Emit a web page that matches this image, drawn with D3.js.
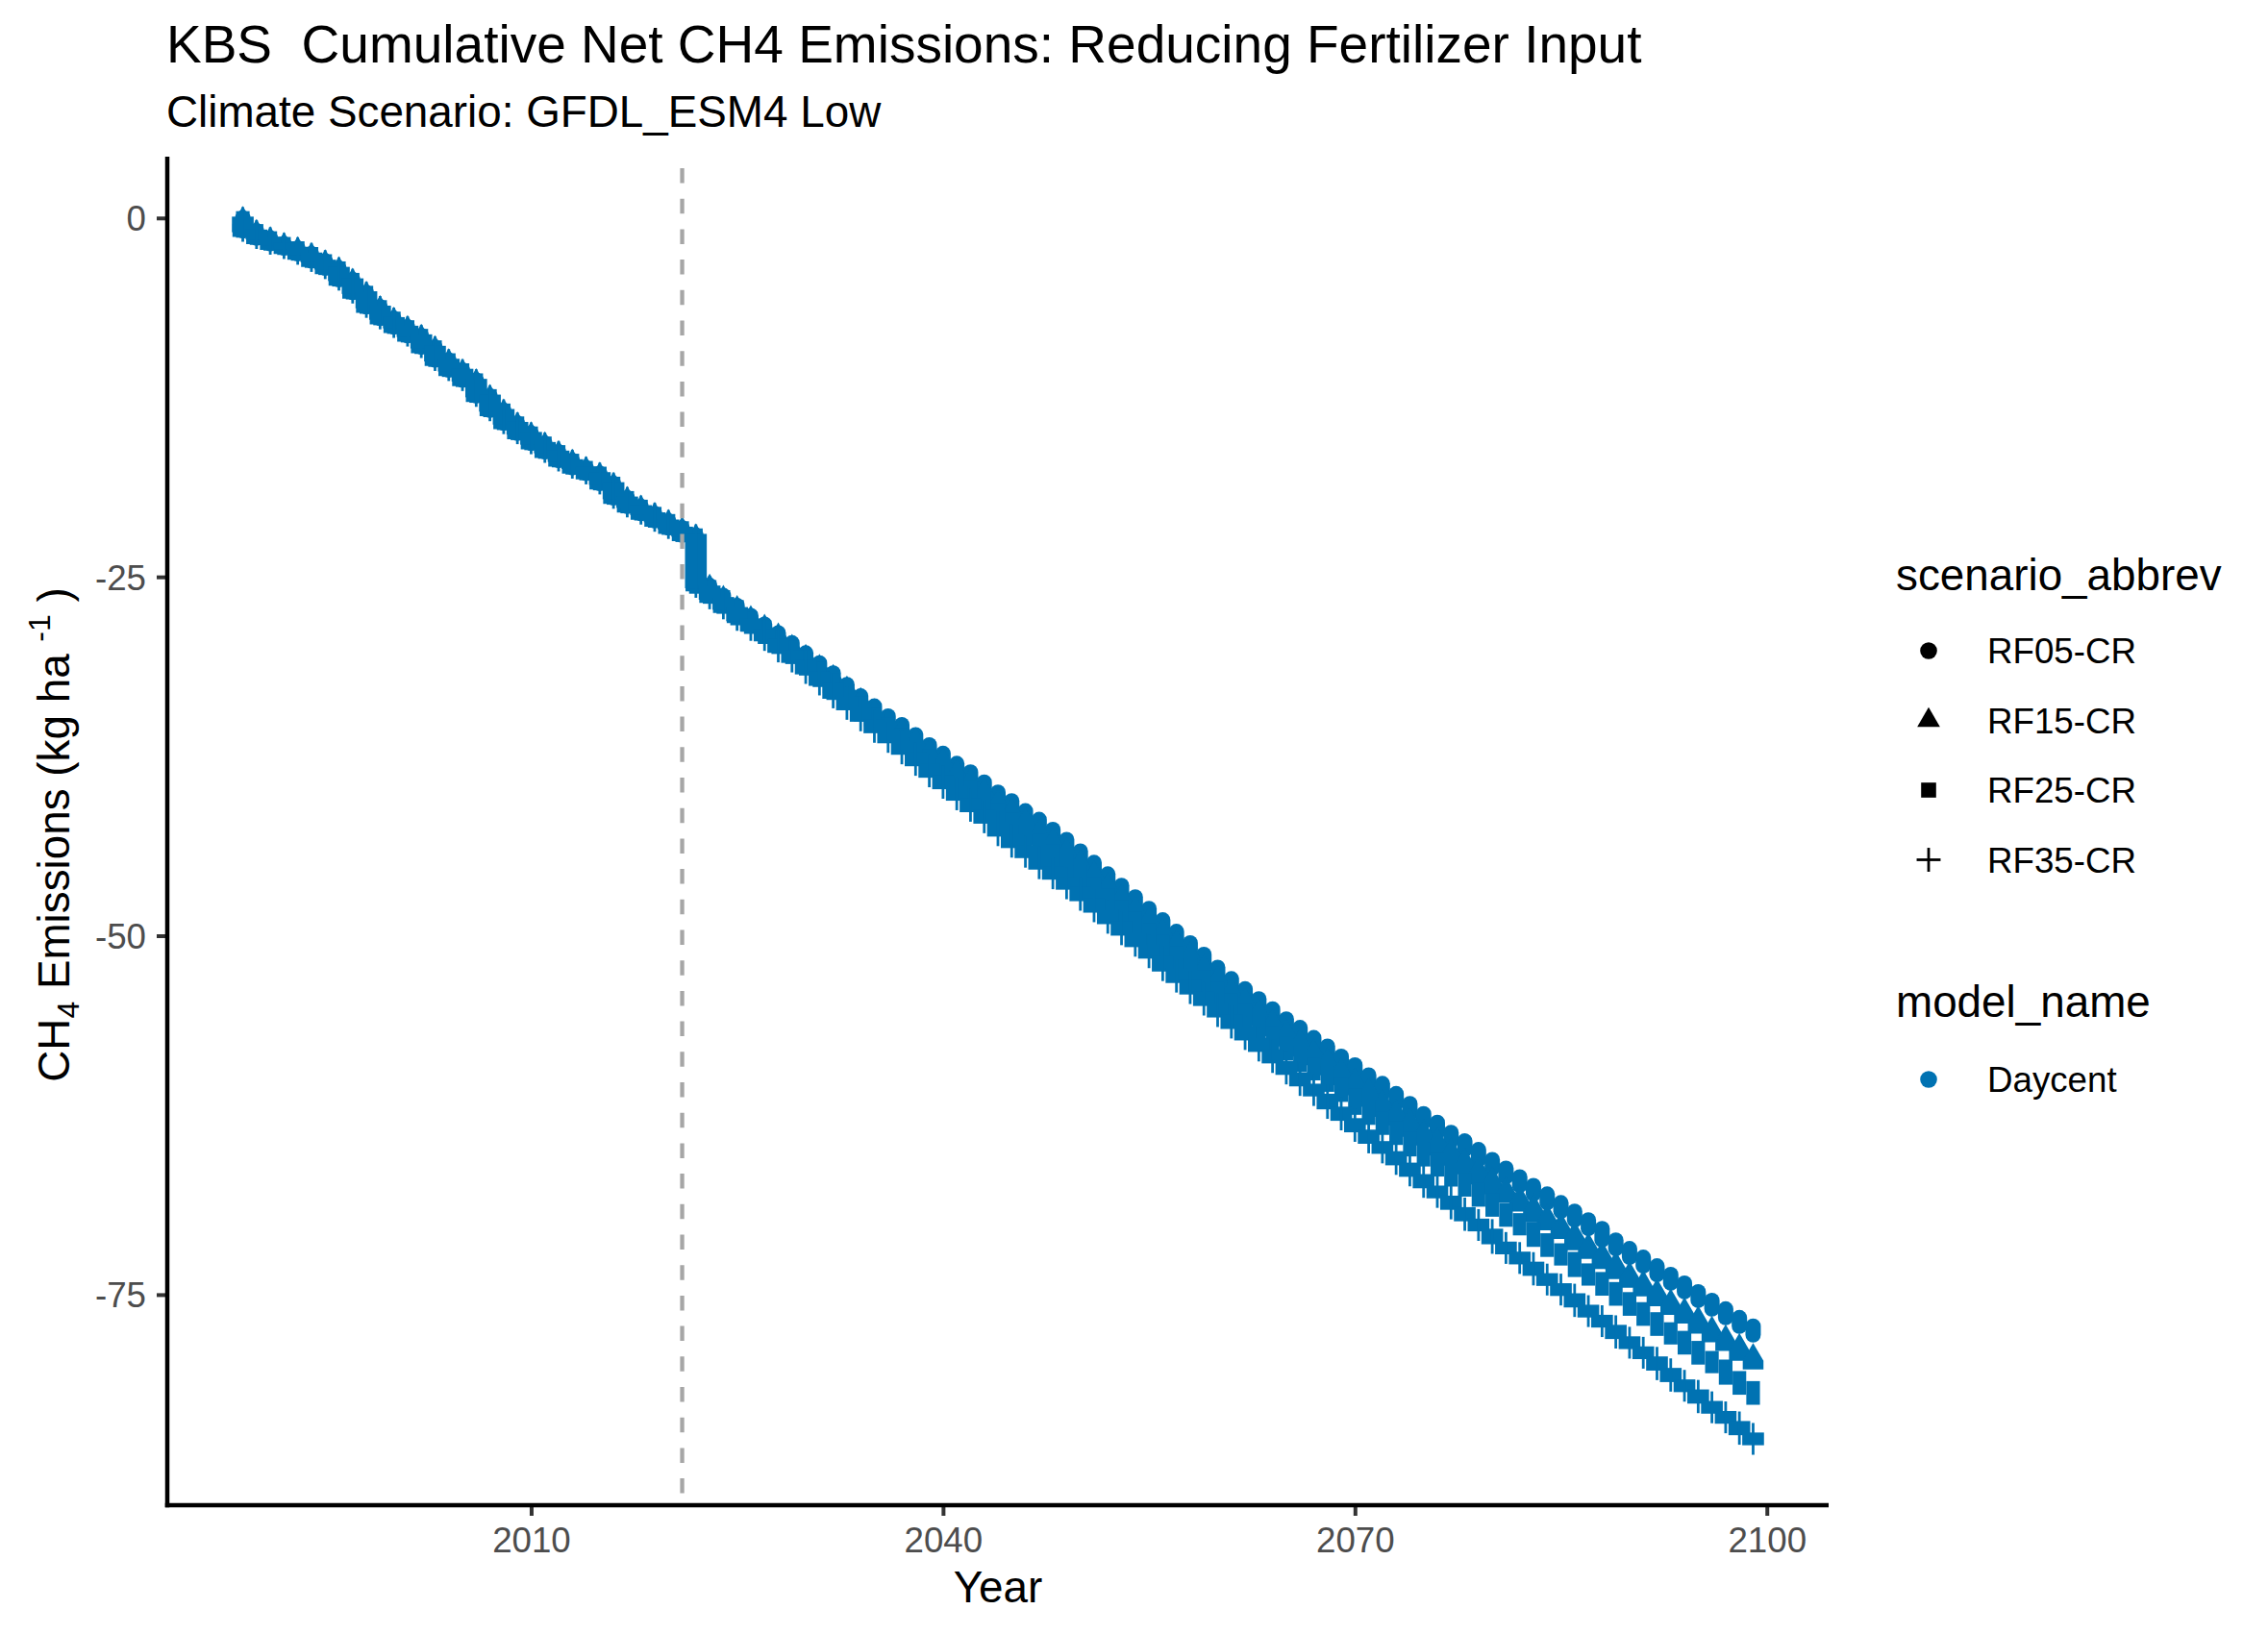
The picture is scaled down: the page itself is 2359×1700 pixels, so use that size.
<!DOCTYPE html>
<html>
<head>
<meta charset="utf-8">
<script src="https://cdn.jsdelivr.net/npm/d3@7"></script>
<style>
  html, body { margin: 0; padding: 0; background: #ffffff; }
  svg { display: block; }
  text { font-family: "Liberation Sans", Arial, sans-serif; white-space: pre; }
</style>
</head>
<body>
<svg id="chart" width="2359" height="1700"></svg>
<script>
// ---------------- DATA ----------------
const titleText = "KBS  Cumulative Net CH4 Emissions: Reducing Fertilizer Input";
const subtitleText = "Climate Scenario: GFDL_ESM4 Low";
const scenarios = ["RF05-CR", "RF15-CR", "RF25-CR", "RF35-CR"];
const modelNames = ["Daycent"];
const xTicks = [2010, 2040, 2070, 2100];
const yTicks = [0, -25, -50, -75];
const interventionYear = 2021;
const startCumulative = 0;              // cumulative value at the start of the record
const firstYear = 1989;

// Year-end cumulative net CH4 (kg/ha), shared history 1989-2021 (all scenarios identical)
const historyYearEnd = [
  -0.9, -1.4, -1.8, -2.1, -2.5, -3.0, -3.5, -4.3, -5.2, -6.2,
  -7.0, -7.6, -8.2, -9.0, -9.9, -10.6, -11.3, -12.4, -13.4, -14.3,
  -15.0, -15.7, -16.3, -16.9, -17.4, -17.8, -18.5, -19.5, -20.1, -20.6,
  -21.1, -21.6, -22.1
];

// Year-end cumulative values per scenario, 2022-2099
const rf05 = [
  -25.6, -26.3, -27.0, -27.7, -28.3, -28.9, -29.6, -30.3, -31.0, -31.7,
  -32.5, -33.3, -34.0, -34.7, -35.3, -36.0, -36.7, -37.3, -38.0, -38.6,
  -39.3, -40.0, -40.6, -41.3, -41.9, -42.6, -43.3, -44.1, -44.9, -45.7,
  -46.5, -47.3, -48.1, -48.9, -49.7, -50.5, -51.3, -52.2, -53.0, -53.7,
  -54.4, -55.1, -55.8, -56.4, -57.1, -57.7, -58.4, -59.0, -59.7, -60.3,
  -61.0, -61.7, -62.4, -63.0, -63.7, -64.3, -64.9, -65.6, -66.2, -66.8,
  -67.4, -68.0, -68.6, -69.2, -69.8, -70.4, -71.2, -71.8, -72.4, -73.0,
  -73.6, -74.2, -74.8, -75.4, -76.0, -76.6, -77.2, -77.8
];
const rf15 = [
  -25.6, -26.4, -27.1, -27.8, -28.4, -29.0, -29.8, -30.5, -31.2, -31.9,
  -32.7, -33.5, -34.3, -35.0, -35.6, -36.3, -37.1, -37.7, -38.5, -39.1,
  -39.8, -40.6, -41.2, -41.9, -42.7, -43.3, -44.0, -44.8, -45.6, -46.4,
  -47.2, -48.0, -48.8, -49.6, -50.4, -51.2, -52.1, -52.9, -53.7, -54.4,
  -55.2, -55.9, -56.6, -57.3, -58.0, -58.6, -59.3, -60.0, -60.7, -61.5,
  -62.2, -62.8, -63.6, -64.2, -64.9, -65.6, -66.2, -66.9, -67.6, -68.2,
  -68.8, -69.5, -70.1, -70.7, -71.5, -72.1, -72.8, -73.5, -74.1, -74.7,
  -75.4, -76.0, -76.6, -77.3, -77.9, -78.5, -79.2, -79.8
];
const rf25 = [
  -25.7, -26.4, -27.1, -27.9, -28.5, -29.2, -29.9, -30.6, -31.4, -32.2,
  -33.1, -33.8, -34.6, -35.3, -36.0, -36.7, -37.5, -38.2, -39.0, -39.7,
  -40.4, -41.2, -41.9, -42.8, -43.4, -44.1, -44.8, -45.6, -46.4, -47.2,
  -48.0, -48.8, -49.6, -50.4, -51.2, -52.1, -52.9, -53.7, -54.5, -55.2,
  -56.0, -56.8, -57.5, -58.2, -59.0, -59.6, -60.4, -61.1, -62.0, -62.7,
  -63.4, -64.1, -64.9, -65.6, -66.3, -67.0, -67.7, -68.4, -69.1, -69.8,
  -70.4, -71.2, -71.9, -72.5, -73.3, -73.9, -74.6, -75.3, -76.0, -76.7,
  -77.4, -78.0, -78.7, -79.4, -80.0, -80.8, -81.5, -82.2
];
const rf35 = [
  -25.7, -26.5, -27.2, -28.0, -28.7, -29.4, -30.2, -30.9, -31.7, -32.5,
  -33.4, -34.2, -35.0, -35.8, -36.5, -37.3, -38.1, -38.9, -39.7, -40.5,
  -41.3, -42.1, -43.0, -43.8, -44.5, -45.3, -46.0, -46.7, -47.5, -48.3,
  -49.1, -49.9, -50.7, -51.5, -52.4, -53.2, -54.0, -54.8, -55.6, -56.4,
  -57.2, -58.0, -58.8, -59.6, -60.4, -61.1, -62.0, -62.8, -63.6, -64.4,
  -65.1, -65.9, -66.7, -67.5, -68.2, -69.0, -69.8, -70.5, -71.4, -72.1,
  -72.8, -73.6, -74.3, -75.0, -75.8, -76.5, -77.2, -78.0, -78.7, -79.4,
  -80.2, -81.0, -81.7, -82.5, -83.2, -83.9, -84.7, -85.4
];
const scenarioFuture = [rf05, rf15, rf25, rf35];

// ---------------- STYLE / LAYOUT ----------------
const W = 2359, H = 1700;
const panel = { left: 174, right: 1902, top: 163, bottom: 1566 };
const blue = "#0072B2";
const R = 8;      // point "radius" (R pch RADIUS) for data
const RL = 8.8;   // legend key radius

const svg = d3.select("#chart");
svg.append("rect").attr("width", W).attr("height", H).attr("fill", "#fff");

// Build per-scenario yearly columns (start-of-year to end-of-year cumulative)
const series = scenarios.map((name, si) => {
  const vals = historyYearEnd.concat(scenarioFuture[si]);
  return {
    name,
    cols: vals.map((v, i) => ({
      year: firstYear + i,
      start: i === 0 ? startCumulative : vals[i - 1],
      end: v
    }))
  };
});

const allVals = [startCumulative].concat(...series.map(s => s.cols.map(c => c.end)));
const years = series[0].cols.map(c => c.year);
const xMin = d3.min(years), xMax = d3.max(years);
const xPad = (xMax - xMin) * 0.05;
const yMin = d3.min(allVals), yMax = d3.max(allVals);
const yPad = (yMax - yMin) * 0.05;

const x = d3.scaleLinear().domain([xMin - xPad, xMax + xPad]).range([panel.left, panel.right]);
const y = d3.scaleLinear().domain([yMin - yPad, yMax + yPad]).range([panel.bottom, panel.top]);

// ---------------- SHAPES ----------------
const shapeDims = r => ({
  triR: 1.5551 * r, triHalfW: 0.866 * 1.5551 * r, triBase: 0.5 * 1.5551 * r,
  sqHalf: 0.886 * r, plusHalf: Math.SQRT2 * r
});
const D = shapeDims(R);
const plusW = 2.8;

const g = svg.append("g");

function colPix(c) {
  const a = y(c.start), b = y(c.end);
  return { top: Math.min(a, b), bot: Math.max(a, b), cx: x(c.year) };
}

// RF05: stacked circles
g.append("g").selectAll("line").data(series[0].cols).join("line")
  .each(function (c) {
    const p = colPix(c);
    d3.select(this).attr("x1", p.cx).attr("x2", p.cx).attr("y1", p.top).attr("y2", p.bot);
  })
  .attr("stroke", blue).attr("stroke-width", 2 * R).attr("stroke-linecap", "round");

// RF15: stacked triangles
g.append("g").selectAll("path").data(series[1].cols).join("path")
  .attr("d", c => {
    const p = colPix(c);
    return `M${p.cx},${p.top - D.triR}L${p.cx + D.triHalfW},${p.top + D.triBase}L${p.cx + D.triHalfW},${p.bot + D.triBase}` +
           `L${p.cx - D.triHalfW},${p.bot + D.triBase}L${p.cx - D.triHalfW},${p.top + D.triBase}Z`;
  })
  .attr("fill", blue);

// RF25: stacked squares
g.append("g").selectAll("rect").data(series[2].cols).join("rect")
  .each(function (c) {
    const p = colPix(c);
    d3.select(this).attr("x", p.cx - D.sqHalf).attr("width", 2 * D.sqHalf)
      .attr("y", p.top - D.sqHalf).attr("height", p.bot - p.top + 2 * D.sqHalf);
  })
  .attr("fill", blue);

// RF35: stacked plus signs
const plusG = g.append("g");
plusG.selectAll("rect").data(series[3].cols).join("rect")
  .each(function (c) {
    const p = colPix(c);
    d3.select(this).attr("x", p.cx - D.plusHalf).attr("width", 2 * D.plusHalf)
      .attr("y", p.top - plusW / 2).attr("height", p.bot - p.top + plusW);
  })
  .attr("fill", blue);
plusG.selectAll("line").data(series[3].cols).join("line")
  .each(function (c) {
    const p = colPix(c);
    d3.select(this).attr("x1", p.cx).attr("x2", p.cx)
      .attr("y1", p.top - D.plusHalf).attr("y2", p.bot + D.plusHalf);
  })
  .attr("stroke", blue).attr("stroke-width", plusW);

// dashed vertical line at intervention year
const dashPeriod = 31.7;
svg.append("line")
  .attr("x1", x(interventionYear)).attr("x2", x(interventionYear))
  .attr("y1", panel.top).attr("y2", panel.bottom)
  .attr("stroke", "#A6A6A6").attr("stroke-width", 4.3)
  .attr("stroke-dasharray", "15.5,16.2").attr("stroke-dashoffset", dashPeriod - 12);

// ---------------- AXES ----------------
const axisTextColor = "#4D4D4D";
const xAxis = d3.axisBottom(x).tickValues(xTicks).tickFormat(d3.format("d")).tickSize(11).tickSizeOuter(0);
const gx = svg.append("g").attr("transform", `translate(0,${panel.bottom})`).call(xAxis);
gx.select(".domain").remove();
gx.selectAll(".tick line").attr("stroke", "#333333").attr("stroke-width", 4);
gx.selectAll(".tick text").attr("y", 49).attr("dy", null)
  .attr("fill", axisTextColor).attr("font-size", 36.7)
  .attr("font-family", "Liberation Sans, Arial, sans-serif");

const yAxis = d3.axisLeft(y).tickValues(yTicks).tickFormat(d3.format("d")).tickSize(11).tickSizeOuter(0);
const gy = svg.append("g").attr("transform", `translate(${panel.left},0)`).call(yAxis);
gy.select(".domain").remove();
gy.selectAll(".tick line").attr("stroke", "#333333").attr("stroke-width", 4);
gy.selectAll(".tick text").attr("x", -22).attr("dy", "0.355em")
  .attr("fill", axisTextColor).attr("font-size", 36.7)
  .attr("font-family", "Liberation Sans, Arial, sans-serif")
  .text(d => String(d));

// axis lines
svg.append("line").attr("x1", panel.left).attr("x2", panel.left)
  .attr("y1", panel.top).attr("y2", panel.bottom + 2.25)
  .attr("stroke", "#000").attr("stroke-width", 4.5);
svg.append("line").attr("x1", panel.left - 2.25).attr("x2", panel.right)
  .attr("y1", panel.bottom).attr("y2", panel.bottom)
  .attr("stroke", "#000").attr("stroke-width", 4.5);

// ---------------- TITLES ----------------
svg.append("text").attr("x", 173).attr("y", 65).attr("font-size", 55).attr("fill", "#000")
  .attr("xml:space", "preserve").text(titleText);
svg.append("text").attr("x", 173).attr("y", 132).attr("font-size", 45.8).attr("fill", "#000").text(subtitleText);

svg.append("text").attr("x", (panel.left + panel.right) / 2).attr("y", 1667)
  .attr("text-anchor", "middle").attr("font-size", 45.8).attr("fill", "#000").text("Year");

const yt = svg.append("text")
  .attr("transform", `translate(72,${(panel.top + panel.bottom) / 2 + 4}) rotate(-90)`)
  .attr("text-anchor", "middle").attr("font-size", 45.8).attr("fill", "#000");
yt.append("tspan").text("CH");
yt.append("tspan").attr("font-size", 32).attr("dy", 10).text("4");
yt.append("tspan").attr("dy", -10).text(" Emissions (kg ha ");
yt.append("tspan").attr("font-size", 32).attr("dy", -20).text("-1");
yt.append("tspan").attr("dy", 20).text(" )");

// ---------------- LEGEND ----------------
const L = shapeDims(RL);
const keyX = 2006, labelX = 2067;
const legTitleX = 1972;
const keyYs = [677, 749.5, 822, 894.5];
svg.append("text").attr("x", legTitleX).attr("y", 614).attr("font-size", 45.8).attr("fill", "#000").text("scenario_abbrev");

const legG = svg.append("g");
scenarios.forEach((s, i) => {
  const cy = keyYs[i];
  if (i === 0) legG.append("circle").attr("cx", keyX).attr("cy", cy).attr("r", RL).attr("fill", "#000");
  if (i === 1) legG.append("path")
    .attr("d", `M${keyX},${cy - L.triR}L${keyX + L.triHalfW},${cy + L.triBase}L${keyX - L.triHalfW},${cy + L.triBase}Z`)
    .attr("fill", "#000");
  if (i === 2) legG.append("rect").attr("x", keyX - L.sqHalf).attr("y", cy - L.sqHalf)
    .attr("width", 2 * L.sqHalf).attr("height", 2 * L.sqHalf).attr("fill", "#000");
  if (i === 3) {
    legG.append("line").attr("x1", keyX - L.plusHalf).attr("x2", keyX + L.plusHalf).attr("y1", cy).attr("y2", cy)
      .attr("stroke", "#000").attr("stroke-width", plusW);
    legG.append("line").attr("x1", keyX).attr("x2", keyX).attr("y1", cy - L.plusHalf).attr("y2", cy + L.plusHalf)
      .attr("stroke", "#000").attr("stroke-width", plusW);
  }
  legG.append("text").attr("x", labelX).attr("y", cy + 13).attr("font-size", 36.7).attr("fill", "#000").text(s);
});

svg.append("text").attr("x", legTitleX).attr("y", 1058).attr("font-size", 45.8).attr("fill", "#000").text("model_name");
modelNames.forEach((m, i) => {
  const cy = 1123 + i * 73;
  legG.append("circle").attr("cx", keyX).attr("cy", cy).attr("r", RL).attr("fill", blue);
  legG.append("text").attr("x", labelX).attr("y", cy + 13).attr("font-size", 36.7).attr("fill", "#000").text(m);
});
</script>
</body>
</html>
